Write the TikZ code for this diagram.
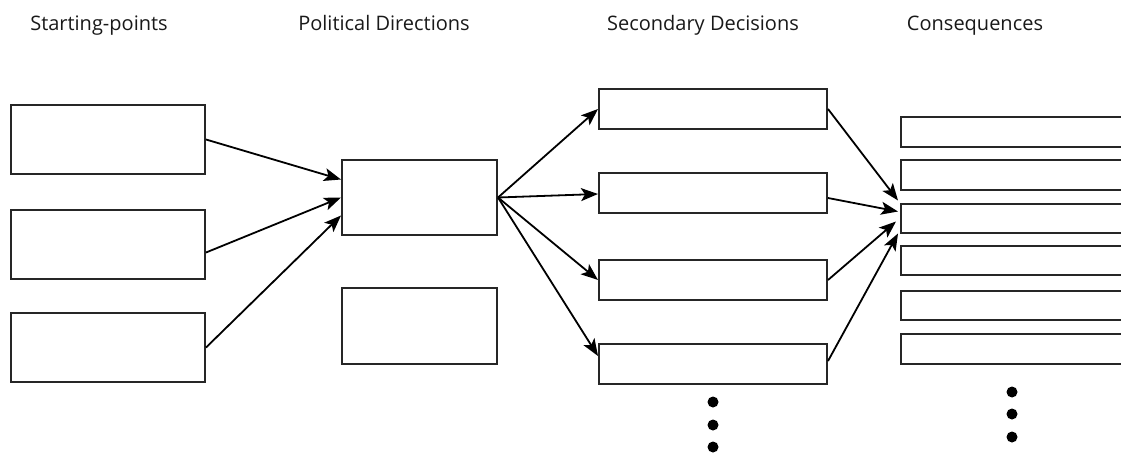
\documentclass[tikz,border=0pt]{standalone}
\usepackage{fontspec}
\setmainfont{Open Sans}
\usetikzlibrary{arrows.meta}
\begin{document}
\begin{tikzpicture}[x=1pt,y=-1pt,
  box/.style={draw=black!85,line width=2pt,fill=white,inner sep=0pt,anchor=north west},
  arr/.style={line width=1.8pt,-{Stealth[length=17pt,width=13pt,inset=4pt]}},
  head/.style={font=\fontsize{20}{24}\selectfont,text=black!90,anchor=base},
  dot/.style={fill=black,circle,inner sep=0pt,minimum size=11pt}]
\useasboundingbox (0,0) rectangle (1121,455);
\clip (0,0) rectangle (1121,455);
% headings
\node[head] (h1) at (99,30) {Starting-points};
\node[head] (h2) at (384,30) {Political Directions};
\node[head] (h3) at (703,30) {Secondary Decisions};
\node[head] (h4) at (975,30) {Consequences};
% starting points
\node[box,minimum width=194pt,minimum height=69pt] (s1) at (10,104) {};
\node[box,minimum width=194pt,minimum height=69pt] (s2) at (10,209) {};
\node[box,minimum width=194pt,minimum height=69pt] (s3) at (10,312) {};
% political directions
\node[box,minimum width=155pt,minimum height=75pt] (p1) at (341,159) {};
\node[box,minimum width=155pt,minimum height=76pt] (p2) at (341,287) {};
% secondary decisions
\node[box,minimum width=228pt,minimum height=40pt] (d1) at (598,88) {};
\node[box,minimum width=228pt,minimum height=40pt] (d2) at (598,172) {};
\node[box,minimum width=228pt,minimum height=40pt] (d3) at (598,259) {};
\node[box,minimum width=228pt,minimum height=40pt] (d4) at (598,343) {};
% consequences
\node[box,minimum width=240pt,minimum height=30pt] (c1) at (900,116) {};
\node[box,minimum width=240pt,minimum height=30pt] (c2) at (900,159) {};
\node[box,minimum width=240pt,minimum height=29pt] (c3) at (900,203) {};
\node[box,minimum width=240pt,minimum height=29pt] (c4) at (900,245) {};
\node[box,minimum width=240pt,minimum height=29pt] (c5) at (900,290) {};
\node[box,minimum width=240pt,minimum height=30pt] (c6) at (900,333) {};
% arrows start -> political
\draw[arr] (s1.east) -- ([yshift=18pt]p1.west);
\draw[arr] ([yshift=-8pt]s2.east) -- ([yshift=0pt]p1.west);
\draw[arr] (s3.east) -- ([yshift=-18pt]p1.west);
% political -> secondary
\draw[arr] (p1.east) -- (d1.west);
\draw[arr] (p1.east) -- ([yshift=-1pt]d2.west);
\draw[arr] (p1.east) -- (d3.west);
\draw[arr] (p1.east) -- ([yshift=8pt]d4.west);
% secondary -> consequences
\draw[arr] (d1.east) -- ([xshift=-2pt,yshift=18pt]c3.west);
\draw[arr] ([yshift=-5pt]d2.east) -- ([xshift=-2pt,yshift=7pt]c3.west);
\draw[arr] (d3.east) -- ([xshift=-4pt,yshift=-3pt]c3.west);
\draw[arr] ([yshift=3pt]d4.east) -- ([xshift=-2pt,yshift=-15pt]c3.west);
% dots
\node[dot] (e1) at (713,402) {};
\node[dot] (e2) at (713,425) {};
\node[dot] (e3) at (713,447) {};
\node[dot] (f1) at (1012,392) {};
\node[dot] (f2) at (1012,414) {};
\node[dot] (f3) at (1012,437) {};
\end{tikzpicture}
\end{document}
